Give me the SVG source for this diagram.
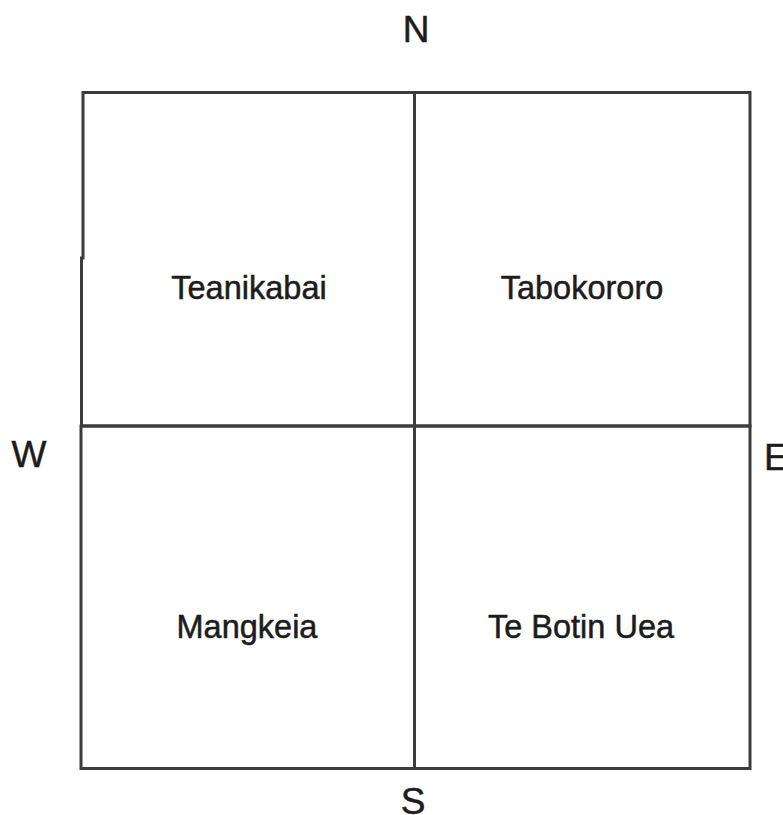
<svg xmlns="http://www.w3.org/2000/svg" width="783" height="815" viewBox="0 0 783 815">
<style>
.cell{fill:none;stroke:#3c3c3c;stroke-width:3}
.lbl{font-family:"Liberation Sans",Arial,sans-serif;font-size:32.5px;fill:#1c1c1c;stroke:#1c1c1c;stroke-width:0.5;text-anchor:middle}
.dir{font-family:"Liberation Sans",Arial,sans-serif;font-size:37px;fill:#1c1c1c;stroke:#1c1c1c;stroke-width:0.5;text-anchor:middle}
</style>
<rect width="783" height="815" fill="#ffffff"/>
<g id="teanikabai">
<path class="cell" d="M83,92.5 H414.5 V426 H81.5 V258 H83 Z"/>
<text class="lbl" x="249" y="299">Teanikabai</text>
</g>
<g id="tabokororo">
<rect class="cell" x="414.5" y="92.5" width="335.5" height="333.5"/>
<text class="lbl" x="582" y="299">Tabokororo</text>
</g>
<g id="mangkeia">
<rect class="cell" x="81" y="426" width="333.5" height="342.5"/>
<text class="lbl" x="247" y="638">Mangkeia</text>
</g>
<g id="te-botin-uea">
<rect class="cell" x="414.5" y="426" width="335.5" height="342.5"/>
<text class="lbl" x="581" y="638">Te Botin Uea</text>
</g>
<g id="compass">
<text class="dir" x="416" y="42">N</text>
<text class="dir" x="29" y="467">W</text>
<text class="dir" x="764" y="470" style="text-anchor:start">E</text>
<text class="dir" x="413" y="814">S</text>
</g>
<g id="connectors"></g>
</svg>
